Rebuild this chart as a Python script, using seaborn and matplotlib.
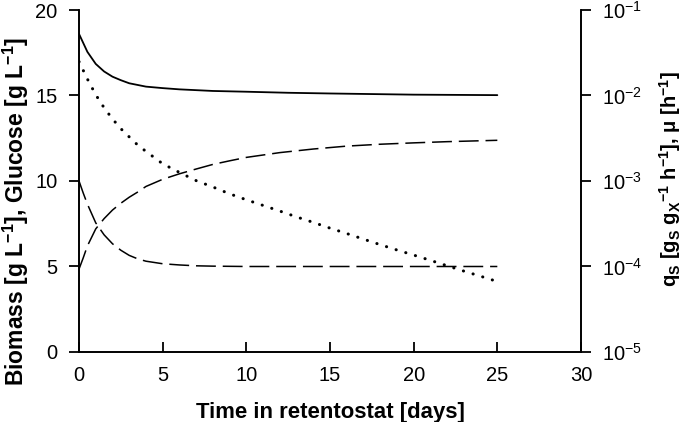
import numpy as np
import matplotlib
matplotlib.use("Agg")
import matplotlib.pyplot as plt
import matplotlib.ticker as mticker
import seaborn as sns

# Werte
t_biomass = [0, 0.25, 0.5, 1, 1.5, 2, 2.5, 3, 3.5, 4, 5, 6, 7, 8, 9, 10, 12, 14, 16, 18, 20, 22, 25]
biomass = [4.85, 5.5, 6.2, 7.2, 7.8, 8.3, 8.7, 9.05, 9.35, 9.68, 10.1, 10.42, 10.7, 10.97, 11.18,
           11.38, 11.66, 11.87, 12.04, 12.15, 12.23, 12.3, 12.38]

t_glucose = [0, 0.25, 0.5, 1, 1.5, 2, 2.5, 3, 3.5, 4, 5, 6, 7, 8, 10, 15, 20, 25]
glucose = [10.0, 9.3, 8.65, 7.55, 6.85, 6.33, 5.95, 5.65, 5.45, 5.31, 5.16, 5.09, 5.04, 5.02,
           5.0, 5.0, 5.0, 5.0]

t_qs = [0, 0.5, 1, 1.5, 2, 2.5, 3, 4, 5, 6, 8, 10, 12.5, 15, 20, 25]
qs = [0.0525, 0.0324, 0.0234, 0.0191, 0.0166, 0.0151, 0.0139, 0.0127, 0.0122, 0.0118, 0.0113,
      0.01107, 0.01076, 0.01056, 0.01023, 0.0101]

t_mu = [0, 0.5, 1, 1.5, 2, 2.5, 3, 3.5, 4, 5, 6, 7, 8, 9, 10, 11, 12, 13, 14, 15, 16, 17, 18,
        19, 20, 21, 22, 23, 24, 25]
mu = [0.0249, 0.0156, 0.0102, 0.00718, 0.00532, 0.00409, 0.00328, 0.00264, 0.00222, 0.00159,
      0.00126, 0.00101, 0.000851, 0.000708, 0.000603, 0.000518, 0.000445, 0.00038, 0.000328,
      0.000281, 0.000243, 0.000209, 0.00018, 0.000156, 0.000136, 0.000118, 0.000102,
      0.0000883, 0.0000769, 0.0000667]

x_ticks = [0, 5, 10, 15, 20, 25, 30]
y_ticks = [0, 5, 10, 15, 20]

sns.set_style("ticks")
plt.rcParams['font.family'] = ['Liberation Sans', 'DejaVu Sans']
plt.rcParams['mathtext.fontset'] = 'custom'
plt.rcParams['mathtext.rm'] = 'Liberation Sans'
plt.rcParams['mathtext.it'] = 'Liberation Sans'
plt.rcParams['mathtext.bf'] = 'Liberation Sans:bold'
plt.rcParams['mathtext.default'] = 'regular'
plt.rcParams['text.color'] = 'black'
plt.rcParams['axes.labelcolor'] = 'black'

fig = plt.figure(figsize=(6.8, 4.22), dpi=100)
ax = fig.add_axes([0.1162, 0.1659, 0.7382, 0.8104])
ax2 = ax.twinx()

dash = (0, (13, 4.5))
sns.lineplot(x=t_biomass, y=biomass, ax=ax, color='black', lw=1.1, linestyle=dash)
sns.lineplot(x=t_glucose, y=glucose, ax=ax, color='black', lw=1.1, linestyle=dash)
sns.lineplot(x=t_qs, y=qs, ax=ax2, color='black', lw=1.3)
sns.lineplot(x=t_mu, y=mu, ax=ax2, color='black', lw=2.2, linestyle=(0, (0.05, 3.25)),
             dash_capstyle='round')

ax.set_xlim(0, 30)
ax.set_ylim(0, 20)
ax.set_xticks(x_ticks)
ax.set_yticks(y_ticks)
ax2.set_yscale('log')
ax2.set_ylim(1e-5, 1e-1)
ax2.yaxis.set_major_locator(mticker.LogLocator(base=10, numticks=10))
ax2.yaxis.set_minor_locator(mticker.NullLocator())

for a in (ax, ax2):
    a.spines['top'].set_visible(False)
    for s in a.spines.values():
        s.set_linewidth(1.2)
        s.set_color('black')

ax.tick_params(axis='x', direction='in', length=7.5, width=1.3, pad=10, labelsize=14.5,
               colors='black')
ax.tick_params(axis='y', direction='out', length=7.5, width=1.3, pad=8, labelsize=14.5,
               colors='black')
ax2.tick_params(axis='y', direction='out', length=7, width=1.3, pad=8, labelsize=14.5,
                colors='black')

ax.set_xlabel('Time in retentostat [days]', fontsize=15.9, fontweight='bold', labelpad=12)
ax.set_ylabel(r'Biomass [g L$^{-1}$], Glucose [g L$^{-1}$]', fontsize=16.5, fontweight='bold')
ax2.set_ylabel(r'q$_S$ [g$_S$ g$_X$$^{-1}$ h$^{-1}$], $\mu$ [h$^{-1}$]', fontsize=14.5,
               fontweight='bold')
ax.yaxis.set_label_coords(-0.0956, 0.412)
ax2.yaxis.set_label_coords(1.151, 0.506)

# Ticks vor dem Speichern einmal erzeugen
fig.canvas.draw()
for axis in (ax.xaxis, ax.yaxis, ax2.yaxis):
    axis.get_major_ticks()
fig.savefig('out.png', dpi=100)
